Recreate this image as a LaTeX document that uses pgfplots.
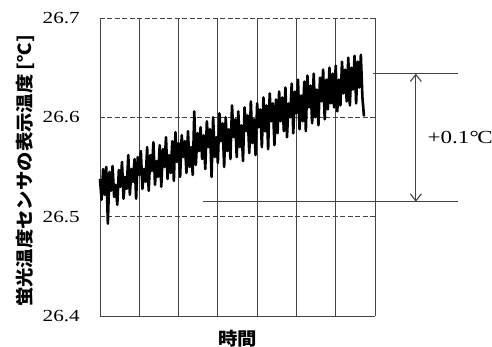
\documentclass[border=0pt]{standalone}
\usepackage{fontspec}
\setmainfont{Liberation Serif}[FakeStretch=1.25]
\newfontfamily\jp{Noto Sans CJK JP}[FakeStretch=1.08]
\usepackage{pgfplots}
\pgfplotsset{compat=1.18}
\usetikzlibrary{arrows.meta}
\definecolor{gridc}{HTML}{444444}
\begin{document}
\begin{tikzpicture}
\useasboundingbox (-100bp,-31bp) rectangle (392bp,316bp);
\begin{axis}[
  at={(0,0)}, anchor=south west,
  scale only axis, width=275bp, height=298bp,
  xmin=0, xmax=7, ymin=26.4, ymax=26.7,
  axis x line*=bottom, axis y line*=left,
  axis line style={gridc, line width=0.9bp, -},
  xtick={1,2,3,4,5,6,7}, xticklabels={},
  ytick={26.4,26.5,26.6,26.7}, yticklabels={26.4,26.5,26.6,26.7},
  major tick length=0pt,
  xmajorgrids, ymajorgrids,
  x grid style={gridc, line width=0.9bp, solid},
  y grid style={gridc, line width=0.8bp, dash pattern=on 5bp off 2.5bp},
  yticklabel style={font=\fontsize{17}{18}\selectfont, inner sep=0pt, xshift=-20bp},
  xlabel={\jp\bfseries 時間},
  ylabel={\jp\bfseries 蛍光温度センサの表示温度 [℃]},
  xlabel style={at={(axis description cs:0.5,-0.0755)}, anchor=center, font=\fontsize{18}{20}\selectfont},
  ylabel style={at={(axis description cs:-0.2727,0.4866)}, anchor=center, rotate=0, font=\fontsize{18}{20}\selectfont},
  clip=false,
]
\addplot[black, line width=2.6bp, line join=round] coordinates {
(0,26.538) (0.04,26.517) (0.08,26.548) (0.12,26.522) (0.16,26.550) (0.20,26.493)
(0.24,26.545) (0.28,26.526) (0.32,26.551) (0.36,26.520) (0.40,26.532) (0.44,26.512)
(0.48,26.547) (0.52,26.530) (0.56,26.555) (0.60,26.518) (0.64,26.540) (0.68,26.528)
(0.72,26.562) (0.76,26.522) (0.80,26.548) (0.84,26.535) (0.88,26.558) (0.92,26.518)
(0.96,26.560) (1.00,26.542) (1.04,26.566) (1.08,26.528) (1.12,26.548) (1.16,26.535)
(1.20,26.570) (1.24,26.526) (1.28,26.562) (1.32,26.546) (1.36,26.575) (1.40,26.532)
(1.44,26.556) (1.48,26.540) (1.52,26.572) (1.56,26.530) (1.60,26.568) (1.64,26.550)
(1.68,26.580) (1.72,26.538) (1.76,26.562) (1.80,26.544) (1.84,26.576) (1.88,26.536)
(1.92,26.585) (1.96,26.555) (2.00,26.574) (2.04,26.540) (2.08,26.582) (2.12,26.560)
(2.16,26.576) (2.20,26.544) (2.24,26.586) (2.28,26.550) (2.32,26.570) (2.36,26.542)
(2.40,26.606) (2.44,26.552) (2.48,26.584) (2.52,26.566) (2.56,26.590) (2.60,26.558)
(2.64,26.582) (2.68,26.548) (2.72,26.596) (2.76,26.570) (2.80,26.588) (2.84,26.540)
(2.88,26.600) (2.92,26.560) (2.96,26.580) (3.00,26.554) (3.04,26.604) (3.08,26.576)
(3.12,26.594) (3.16,26.550) (3.20,26.600) (3.24,26.566) (3.28,26.588) (3.32,26.558)
(3.36,26.612) (3.40,26.580) (3.44,26.598) (3.48,26.560) (3.52,26.606) (3.56,26.570)
(3.60,26.592) (3.64,26.556) (3.68,26.610) (3.72,26.586) (3.76,26.602) (3.80,26.564)
(3.84,26.616) (3.88,26.574) (3.92,26.598) (3.96,26.562) (4.00,26.614) (4.04,26.590)
(4.08,26.608) (4.12,26.570) (4.16,26.620) (4.20,26.586) (4.24,26.612) (4.28,26.568)
(4.32,26.624) (4.36,26.596) (4.40,26.614) (4.44,26.572) (4.48,26.618) (4.52,26.584)
(4.56,26.626) (4.60,26.596) (4.64,26.620) (4.68,26.586) (4.72,26.630) (4.76,26.580)
(4.80,26.614) (4.84,26.600) (4.88,26.634) (4.92,26.584) (4.96,26.626) (5.00,26.604)
(5.04,26.638) (5.08,26.588) (5.12,26.622) (5.16,26.596) (5.20,26.636) (5.24,26.586)
(5.28,26.642) (5.32,26.610) (5.36,26.632) (5.40,26.594) (5.44,26.644) (5.48,26.600)
(5.52,26.628) (5.56,26.592) (5.60,26.640) (5.64,26.616) (5.68,26.648) (5.72,26.598)
(5.76,26.638) (5.80,26.608) (5.84,26.650) (5.88,26.614) (5.92,26.644) (5.96,26.610)
(6.00,26.652) (6.04,26.606) (6.08,26.638) (6.12,26.612) (6.16,26.656) (6.20,26.624)
(6.24,26.648) (6.28,26.616) (6.32,26.660) (6.36,26.612) (6.40,26.650) (6.44,26.628)
(6.48,26.662) (6.52,26.614) (6.56,26.656) (6.60,26.630) (6.64,26.663) (6.68,26.620)
(6.72,26.601)
};
\draw[gridc, line width=1.2bp] (axis cs:6.95,26.644) -- (axis cs:9.11,26.644);
\draw[gridc, line width=1.2bp] (axis cs:2.62,26.515) -- (axis cs:9.11,26.515);
\draw[gridc, line width=1.1bp, {Straight Barb[length=7bp,width=11bp]}-{Straight Barb[length=7bp,width=11bp]}] (axis cs:8.04,26.644) -- (axis cs:8.04,26.515);
\node[font=\fontsize{18.5}{20}\selectfont, inner sep=0pt] at (axis cs:9.17,26.580) {+0.1\kern0.3bp\raisebox{0.1bp}{°}\kern-1.5bp C};
\end{axis}
\end{tikzpicture}
\end{document}
